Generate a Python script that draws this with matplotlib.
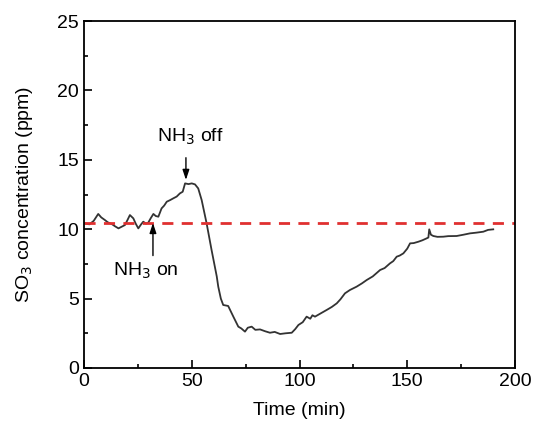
import matplotlib
matplotlib.use("Agg")
import matplotlib.pyplot as plt
from matplotlib.ticker import MultipleLocator

plt.rcParams['font.family'] = ['Liberation Sans', 'DejaVu Sans']

time_min = [0.5, 2.5, 4.5, 6.6, 8.0, 9.7, 11.0, 12.9, 14.5, 16.0, 17.5, 19.0, 20.3, 21.3, 22.9,
            24.0, 25.2, 26.5, 27.5, 28.8, 29.8, 31.0, 32.2, 33.3, 34.5, 36.0, 37.2, 38.4, 40.0,
            41.4, 43.0, 44.5, 45.8, 46.9, 48.5, 50.0, 51.5, 53.0, 54.6, 56.9, 59.2, 61.6, 62.3,
            63.5, 64.6, 66.9, 69.3, 71.6, 73.0, 74.7, 76.0, 77.8, 79.5, 81.7, 84.0, 86.3, 88.5,
            91.0, 93.5, 96.4, 98.0, 99.5, 101.5, 103.3, 105.0, 106.0, 107.2, 110.0, 112.6, 115.0,
            117.3, 119.0, 121.1, 123.4, 126.5, 129.0, 131.2, 134.0, 137.4, 139.5, 142.0, 143.5,
            145.1, 146.5, 148.2, 150.0, 151.3, 153.0, 155.2, 157.0, 159.0, 159.8, 160.2, 161.0,
            162.1, 164.0, 166.7, 169.0, 172.9, 176.0, 179.1, 182.0, 185.3, 187.5, 189.9]
so3_ppm = [10.42, 10.35, 10.6, 11.1, 10.85, 10.66, 10.5, 10.37, 10.2, 10.06, 10.18, 10.3, 10.7,
           11.02, 10.78, 10.4, 10.06, 10.35, 10.54, 10.4, 10.47, 10.8, 11.1, 10.95, 10.9, 11.5,
           11.7, 11.98, 12.1, 12.22, 12.35, 12.58, 12.7, 13.3, 13.25, 13.3, 13.23, 12.94, 12.1,
           10.42, 8.5, 6.6, 5.86, 5.0, 4.54, 4.47, 3.7, 2.98, 2.85, 2.62, 2.9, 2.98, 2.75, 2.78,
           2.65, 2.54, 2.6, 2.45, 2.5, 2.54, 2.8, 3.1, 3.3, 3.7, 3.55, 3.8, 3.7, 3.95, 4.18, 4.4,
           4.66, 4.95, 5.38, 5.62, 5.86, 6.1, 6.34, 6.6, 7.06, 7.2, 7.54, 7.7, 8.02, 8.1, 8.26,
           8.6, 8.98, 9.0, 9.1, 9.2, 9.34, 9.4, 9.99, 9.6, 9.51, 9.45, 9.46, 9.5, 9.51, 9.6, 9.7,
           9.75, 9.82, 9.95, 9.99]

baseline_ppm = 10.45

fig = plt.figure(figsize=(5.34, 4.29), dpi=100)
ax = fig.add_axes([84/534, 1-368/429, (515-84)/534, (368-21)/429])

ax.plot(time_min, so3_ppm, color='#333333', lw=1.3)
ax.axhline(baseline_ppm, color='#e03030', lw=2, ls=(0, (4, 3)))

ax.set_xlim(0, 200)
ax.set_ylim(0, 25)
ax.xaxis.set_major_locator(MultipleLocator(50))
ax.xaxis.set_minor_locator(MultipleLocator(25))
ax.yaxis.set_major_locator(MultipleLocator(5))
ax.yaxis.set_minor_locator(MultipleLocator(2.5))
ax.tick_params(which='both', direction='in', labelsize=14, width=1.2)
ax.tick_params(which='major', length=6)
ax.tick_params(which='minor', length=3)
for s in ax.spines.values():
    s.set_linewidth(1.3)

ax.set_xlabel('Time (min)', fontsize=14, labelpad=9)
ax.set_ylabel('SO$_3$ concentration (ppm)', fontsize=14, labelpad=16)

arrow_kw = dict(arrowstyle='-|>,head_length=0.6,head_width=0.2', color='black', lw=1.0,
                shrinkA=0, shrinkB=0)
ax.text(49.2, 16.65, 'NH$_3$ off', fontsize=14, ha='center', va='center')
ax.annotate('', xy=(47.3, 13.55), xytext=(47.3, 15.15), arrowprops=arrow_kw)
ax.text(28.8, 7.0, 'NH$_3$ on', fontsize=14, ha='center', va='center')
ax.annotate('', xy=(32.0, 10.45), xytext=(32.0, 8.1), arrowprops=arrow_kw)

fig.savefig('out.png', dpi=100)
